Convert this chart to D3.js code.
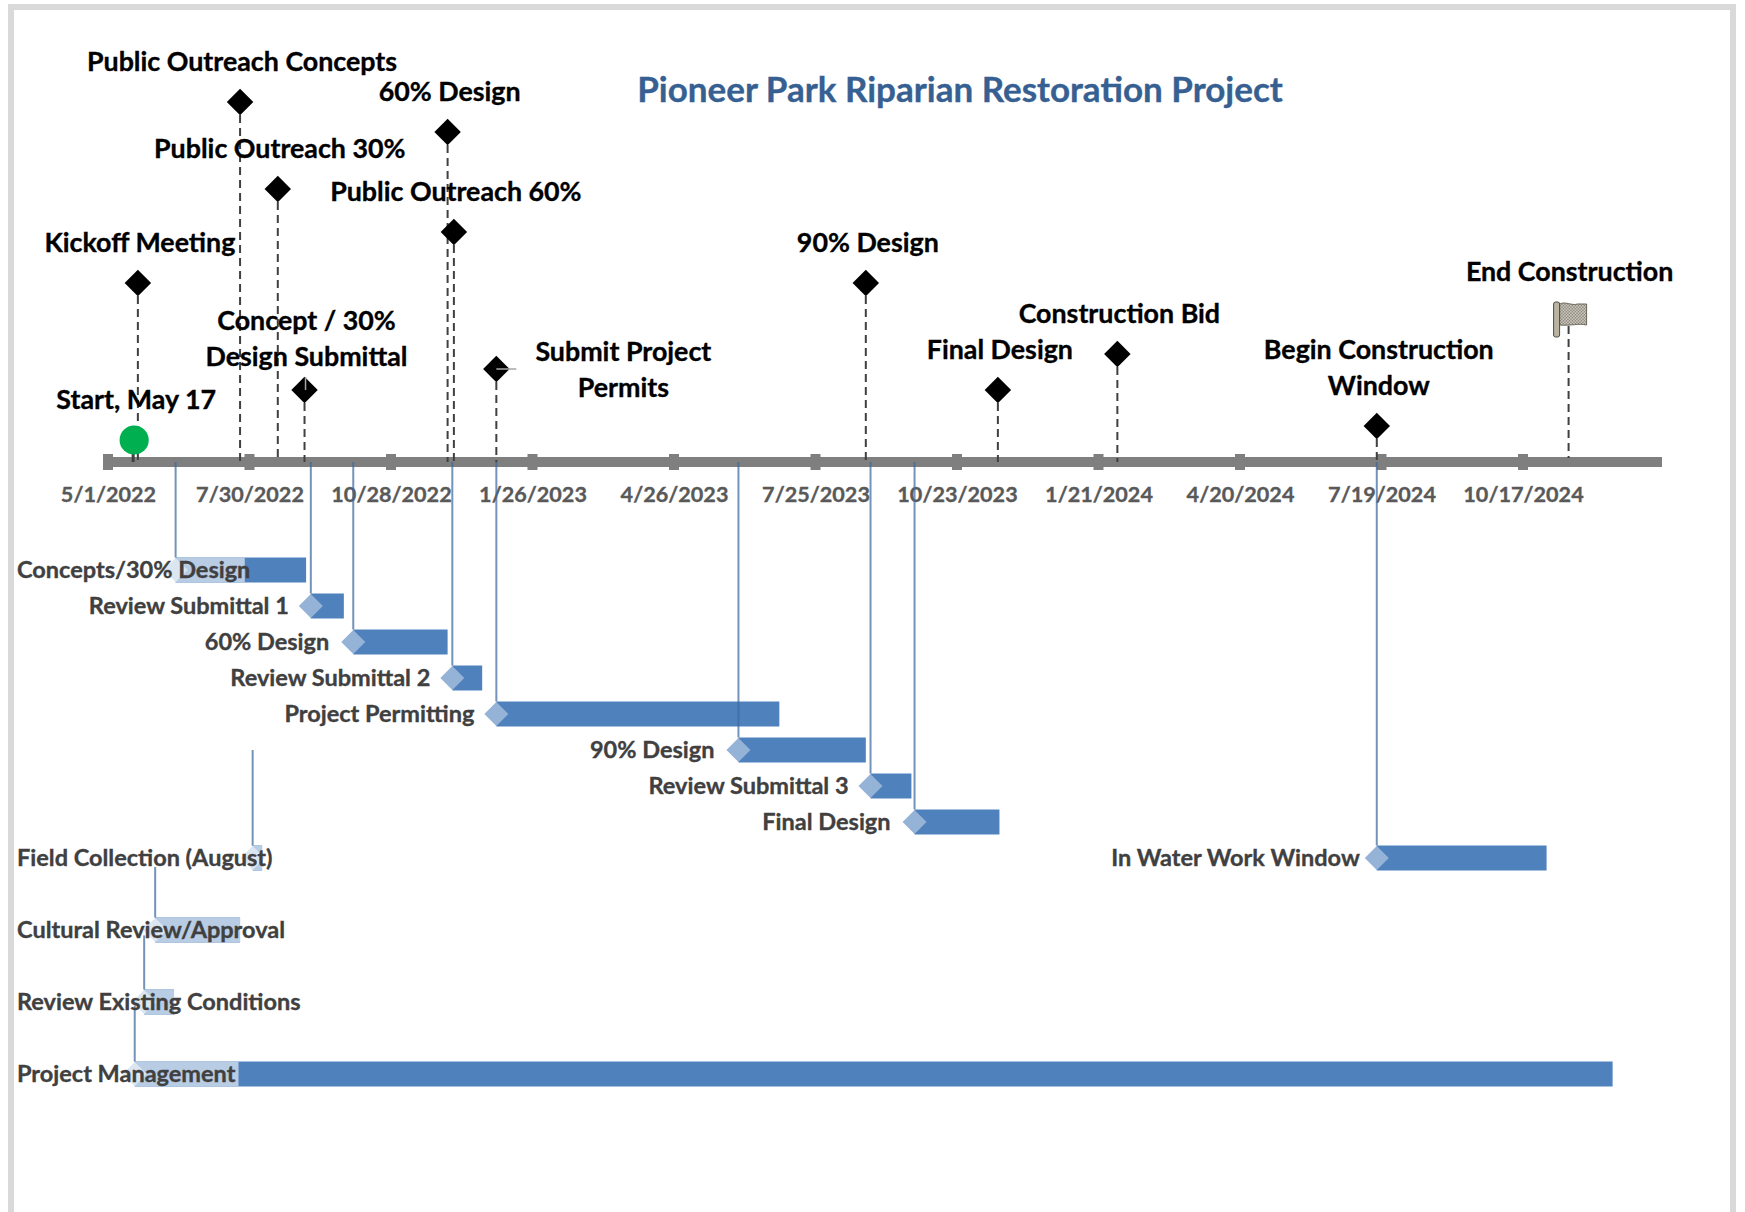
<!DOCTYPE html>
<html>
<head>
<meta charset="utf-8">
<script src="https://cdn.jsdelivr.net/npm/d3@7"></script>
<style>
  html, body { margin: 0; background: #fff; }
  text { font-family: Lato, "Open Sans", sans-serif; font-weight: 700; stroke-width: 0.35px; }
</style>
</head>
<body>
<div id="chart"></div>
<script>
const tickDates = ['5/1/2022', '7/30/2022', '10/28/2022', '1/26/2023', '4/26/2023', '7/25/2023',
    '10/23/2023', '1/21/2024', '4/20/2024', '7/19/2024', '10/17/2024'];

// milestones, height is the level above the timeline
const milestoneNames = ['Kickoff Meeting', 'Public Outreach Concepts', 'Public Outreach 30%',
    'Concept / 30%|Design Submittal', '60% Design', 'Public Outreach 60%', 'Submit Project|Permits',
    '90% Design', 'Final Design', 'Construction Bid', 'Begin Construction|Window'];
const milestoneDates = ['5/20/2022', '7/24/2022', '8/17/2022', '9/3/2022', '12/3/2022', '12/7/2022',
    '1/3/2023', '8/26/2023', '11/18/2023', '2/2/2024', '7/16/2024'];
const milestoneHeights = [17.9, 36, 27.3, 7.2, 33, 23, 9.3, 17.9, 7.2, 10.8, 3.6];

const startName = 'Start, May 17';
const startDate = '5/17/2022';
const startHeight = 2.2;
const endName = 'End Construction';
const endDate = '11/15/2024';
const endHeight = 14.8;

// tasks, row is the line number below the timeline
const taskNames = ['Concepts/30% Design', 'Review Submittal 1', '60% Design', 'Review Submittal 2',
    'Project Permitting', '90% Design', 'Review Submittal 3', 'Final Design', 'In Water Work Window',
    'Field Collection (August)', 'Cultural Review/Approval', 'Review Existing Conditions', 'Project Management'];
const taskRows = [0, 1, 2, 3, 4, 5, 6, 7, 8, 8, 10, 12, 14];
const taskStarts = ['6/13/2022', '9/7/2022', '10/4/2022', '12/6/2022', '1/3/2023', '6/6/2023', '8/29/2023',
    '9/26/2023', '7/16/2024', '8/1/2022', '5/31/2022', '5/24/2022', '5/18/2022'];
const taskEnds = ['9/4/2022', '9/28/2022', '12/3/2022', '12/25/2022', '7/2/2023', '8/26/2023', '9/24/2023',
    '11/19/2023', '11/1/2024', '8/7/2022', '7/24/2022', '6/12/2022', '12/13/2024'];
// end of the pale "done" part, null when the task has none
const taskDone = ['7/27/2022', null, null, null, null, null, null, null, null, '8/7/2022', '7/24/2022', '6/12/2022', '7/23/2022'];
// rows where the label starts at the left edge and the leader line comes from the row above
const leftLabelled = ['Concepts/30% Design', 'Field Collection (August)', 'Cultural Review/Approval',
    'Review Existing Conditions', 'Project Management'];
const stemFromRow = {'Field Collection (August)': 5, 'Cultural Review/Approval': 8.25, 'Review Existing Conditions': 10.15, 'Project Management': 12.1};
const labelNudge = {'In Water Work Window': 5, '60% Design': -2, '90% Design': -2, 'Final Design': -2};

const parseDate = d3.utcParse('%m/%d/%Y');
const width = 1745, height = 1212;
const axisY = 462;

const x = d3.scaleUtc().domain([parseDate(tickDates[0]), parseDate(tickDates[tickDates.length - 1])]).range([108, 1523]);
const yLevel = d3.scaleLinear().domain([0, 36]).range([axisY, 102]);
const yRow = d3.scaleLinear().domain([0, 14]).range([570, 1074]);

const svg = d3.select('#chart').append('svg').attr('width', width).attr('height', height)
    .attr('viewBox', `0 0 ${width} ${height}`).style('display', 'block');

// checker pattern for the end flag
const pattern = svg.append('defs').append('pattern').attr('id', 'checker').attr('width', 3).attr('height', 3)
    .attr('patternUnits', 'userSpaceOnUse');
pattern.append('rect').attr('width', 3).attr('height', 3).attr('fill', '#e6e2d6');
pattern.append('rect').attr('width', 1.5).attr('height', 1.5).attr('fill', '#77736a');
pattern.append('rect').attr('x', 1.5).attr('y', 1.5).attr('width', 1.5).attr('height', 1.5).attr('fill', '#77736a');

// frame, open at the bottom
svg.append('path').attr('fill', 'none').attr('stroke', '#d9d9d9').attr('stroke-width', 6)
    .attr('d', `M11,${height} V7 H1733 V${height}`);

svg.append('text').attr('x', 960).attr('y', 102).attr('text-anchor', 'middle')
    .attr('font-size', 35).attr('fill', '#376092').attr('stroke', '#376092')
    .text('Pioneer Park Riparian Restoration Project');

// timeline band and tick squares
svg.append('rect').attr('x', 103).attr('y', axisY - 5).attr('width', 1559).attr('height', 10).attr('fill', '#7f7f7f');
const ticks = tickDates.map(parseDate);
svg.selectAll('.tick-square').data(ticks).join('rect').attr('class', 'tick-square')
    .attr('x', d => x(d) - 5).attr('y', axisY - 8).attr('width', 10).attr('height', 16).attr('fill', '#7f7f7f');
const axis = d3.axisBottom(x).tickValues(ticks).tickSize(0).tickPadding(0).tickFormat(d3.utcFormat('%-m/%-d/%Y'));
const axisG = svg.append('g').attr('transform', `translate(0,${axisY})`).call(axis);
axisG.select('.domain').remove();
axisG.selectAll('text').attr('y', 40).attr('dy', 0).attr('font-size', 21.6).attr('fill', '#595959')
    .attr('stroke', '#595959').style('font-family', 'Lato').style('font-weight', 700);

// task rows
const tasks = taskNames.map((name, i) => ({
    name, row: taskRows[i], start: parseDate(taskStarts[i]), end: parseDate(taskEnds[i]),
    done: taskDone[i] ? parseDate(taskDone[i]) : null, left: leftLabelled.includes(name)
}));
const barH = 25;
svg.selectAll('.bar').data(tasks).join('rect').attr('class', 'bar')
    .attr('x', d => x(d.start)).attr('y', d => yRow(d.row) - barH / 2)
    .attr('width', d => x(d.end) - x(d.start)).attr('height', barH)
    .attr('fill', '#4f81bd');
svg.selectAll('.bar-done').data(tasks.filter(d => d.done)).join('rect').attr('class', 'bar-done')
    .attr('x', d => x(d.start)).attr('y', d => yRow(d.row) - barH / 2)
    .attr('width', d => x(d.done) - x(d.start)).attr('height', barH)
    .attr('fill', '#b8cce4');
const taskDiamond = d3.symbol().type(d3.symbolSquare).size(288);
svg.selectAll('.task-diamond').data(tasks).join('path').attr('class', 'task-diamond')
    .attr('d', taskDiamond)
    .attr('transform', d => `translate(${x(d.start)},${yRow(d.row)}) rotate(45)`)
    .attr('fill', d => d.done ? '#dce6f1' : '#95b3d7');

// leader lines from the timeline (or from a row above) down to each bar
svg.selectAll('.stem').data(tasks).join('line').attr('class', 'stem')
    .attr('x1', d => x(d.start)).attr('x2', d => x(d.start))
    .attr('y1', d => stemFromRow[d.name] !== undefined ? yRow(stemFromRow[d.name]) : axisY)
    .attr('y2', d => yRow(d.row) - barH / 2)
    .attr('stroke', '#3d6a9f').attr('stroke-opacity', 0.72).attr('stroke-width', 2);

svg.selectAll('.task-label').data(tasks).join('text').attr('class', 'task-label')
    .attr('x', d => d.left ? 17 : x(d.start) - 22 + (labelNudge[d.name] || 0))
    .attr('y', d => yRow(d.row) + 8)
    .attr('text-anchor', d => d.left ? 'start' : 'end')
    .attr('font-size', 23.5).attr('fill', '#404040').attr('stroke', '#404040')
    .text(d => d.name);

// milestones
const milestones = milestoneNames.map((name, i) => ({
    lines: name.split('|'), date: parseDate(milestoneDates[i]), level: milestoneHeights[i]
}));
const dashed = g => g.attr('stroke', '#404040').attr('stroke-width', 2).attr('stroke-dasharray', '8 5');
svg.selectAll('.drop').data(milestones).join('line').attr('class', 'drop')
    .attr('x1', d => x(d.date)).attr('x2', d => x(d.date))
    .attr('y1', d => yLevel(d.level)).attr('y2', axisY).call(dashed);
svg.append('line').attr('x1', x(parseDate(endDate))).attr('x2', x(parseDate(endDate)))
    .attr('y1', yLevel(endHeight) + 12).attr('y2', axisY - 4).call(dashed);

const msDiamond = d3.symbol().type(d3.symbolSquare).size(350);
svg.selectAll('.ms').data(milestones).join('path').attr('class', 'ms')
    .attr('d', msDiamond)
    .attr('transform', d => `translate(${x(d.date)},${yLevel(d.level)}) rotate(45)`)
    .attr('fill', '#000');

// small leftovers of label leader lines
const permit = milestones[6], concept = milestones[3];
svg.append('line').attr('x1', x(permit.date)).attr('x2', x(permit.date) + 20)
    .attr('y1', yLevel(permit.level)).attr('y2', yLevel(permit.level)).attr('stroke', '#a6a6a6').attr('stroke-width', 1.5);
svg.append('line').attr('x1', x(concept.date) + 1).attr('x2', x(concept.date) + 1)
    .attr('y1', yLevel(concept.level) - 13).attr('y2', yLevel(concept.level)).attr('stroke', '#a6a6a6').attr('stroke-width', 1.5);

const lineGap = 36;
const msFont = 26.8;
const labelG = svg.append('g').attr('fill', '#000').attr('stroke', '#000');
milestones.forEach(d => {
    const isPermit = d === permit;
    const lastY = isPermit ? yLevel(d.level) + 28 : yLevel(d.level) + (d === concept ? -24 : -31);
    const cx = isPermit ? x(d.date) + 127 : x(d.date) + 2;
    d.lines.forEach((line, j) => {
        labelG.append('text').attr('x', cx).attr('y', lastY - (d.lines.length - 1 - j) * lineGap)
            .attr('text-anchor', 'middle').attr('font-size', msFont).text(line);
    });
});

// start marker
const sx = x(parseDate(startDate));
svg.append('line').attr('x1', sx).attr('x2', sx).attr('y1', yLevel(startHeight)).attr('y2', axisY).attr('stroke', '#404040').attr('stroke-width', 3);
svg.append('circle').attr('cx', sx + 1).attr('cy', yLevel(startHeight)).attr('r', 14.6).attr('fill', '#00b050');
labelG.append('text').attr('x', sx + 3).attr('y', yLevel(startHeight) - 31)
    .attr('text-anchor', 'middle').attr('font-size', msFont).text(startName);

// end flag
const ex = x(parseDate(endDate)), ey = yLevel(endHeight);
const flag = svg.append('g').attr('transform', `translate(${ex},${ey})`);
flag.append('path').attr('d', 'M-9,-10 C-3,-13 3,-8 9,-10 L18,-10 L18,11 C10,9 3,12 -9,11 Z')
    .attr('fill', 'url(#checker)').attr('stroke', '#6b675a').attr('stroke-width', 1);
flag.append('rect').attr('x', -15).attr('y', -12).attr('width', 6).attr('height', 35).attr('rx', 2)
    .attr('fill', '#b9b39f').attr('stroke', '#4d4a40').attr('stroke-width', 1);
labelG.append('text').attr('x', ex + 1).attr('y', ey - 33)
    .attr('text-anchor', 'middle').attr('font-size', msFont).text(endName);
</script>
</body>
</html>
